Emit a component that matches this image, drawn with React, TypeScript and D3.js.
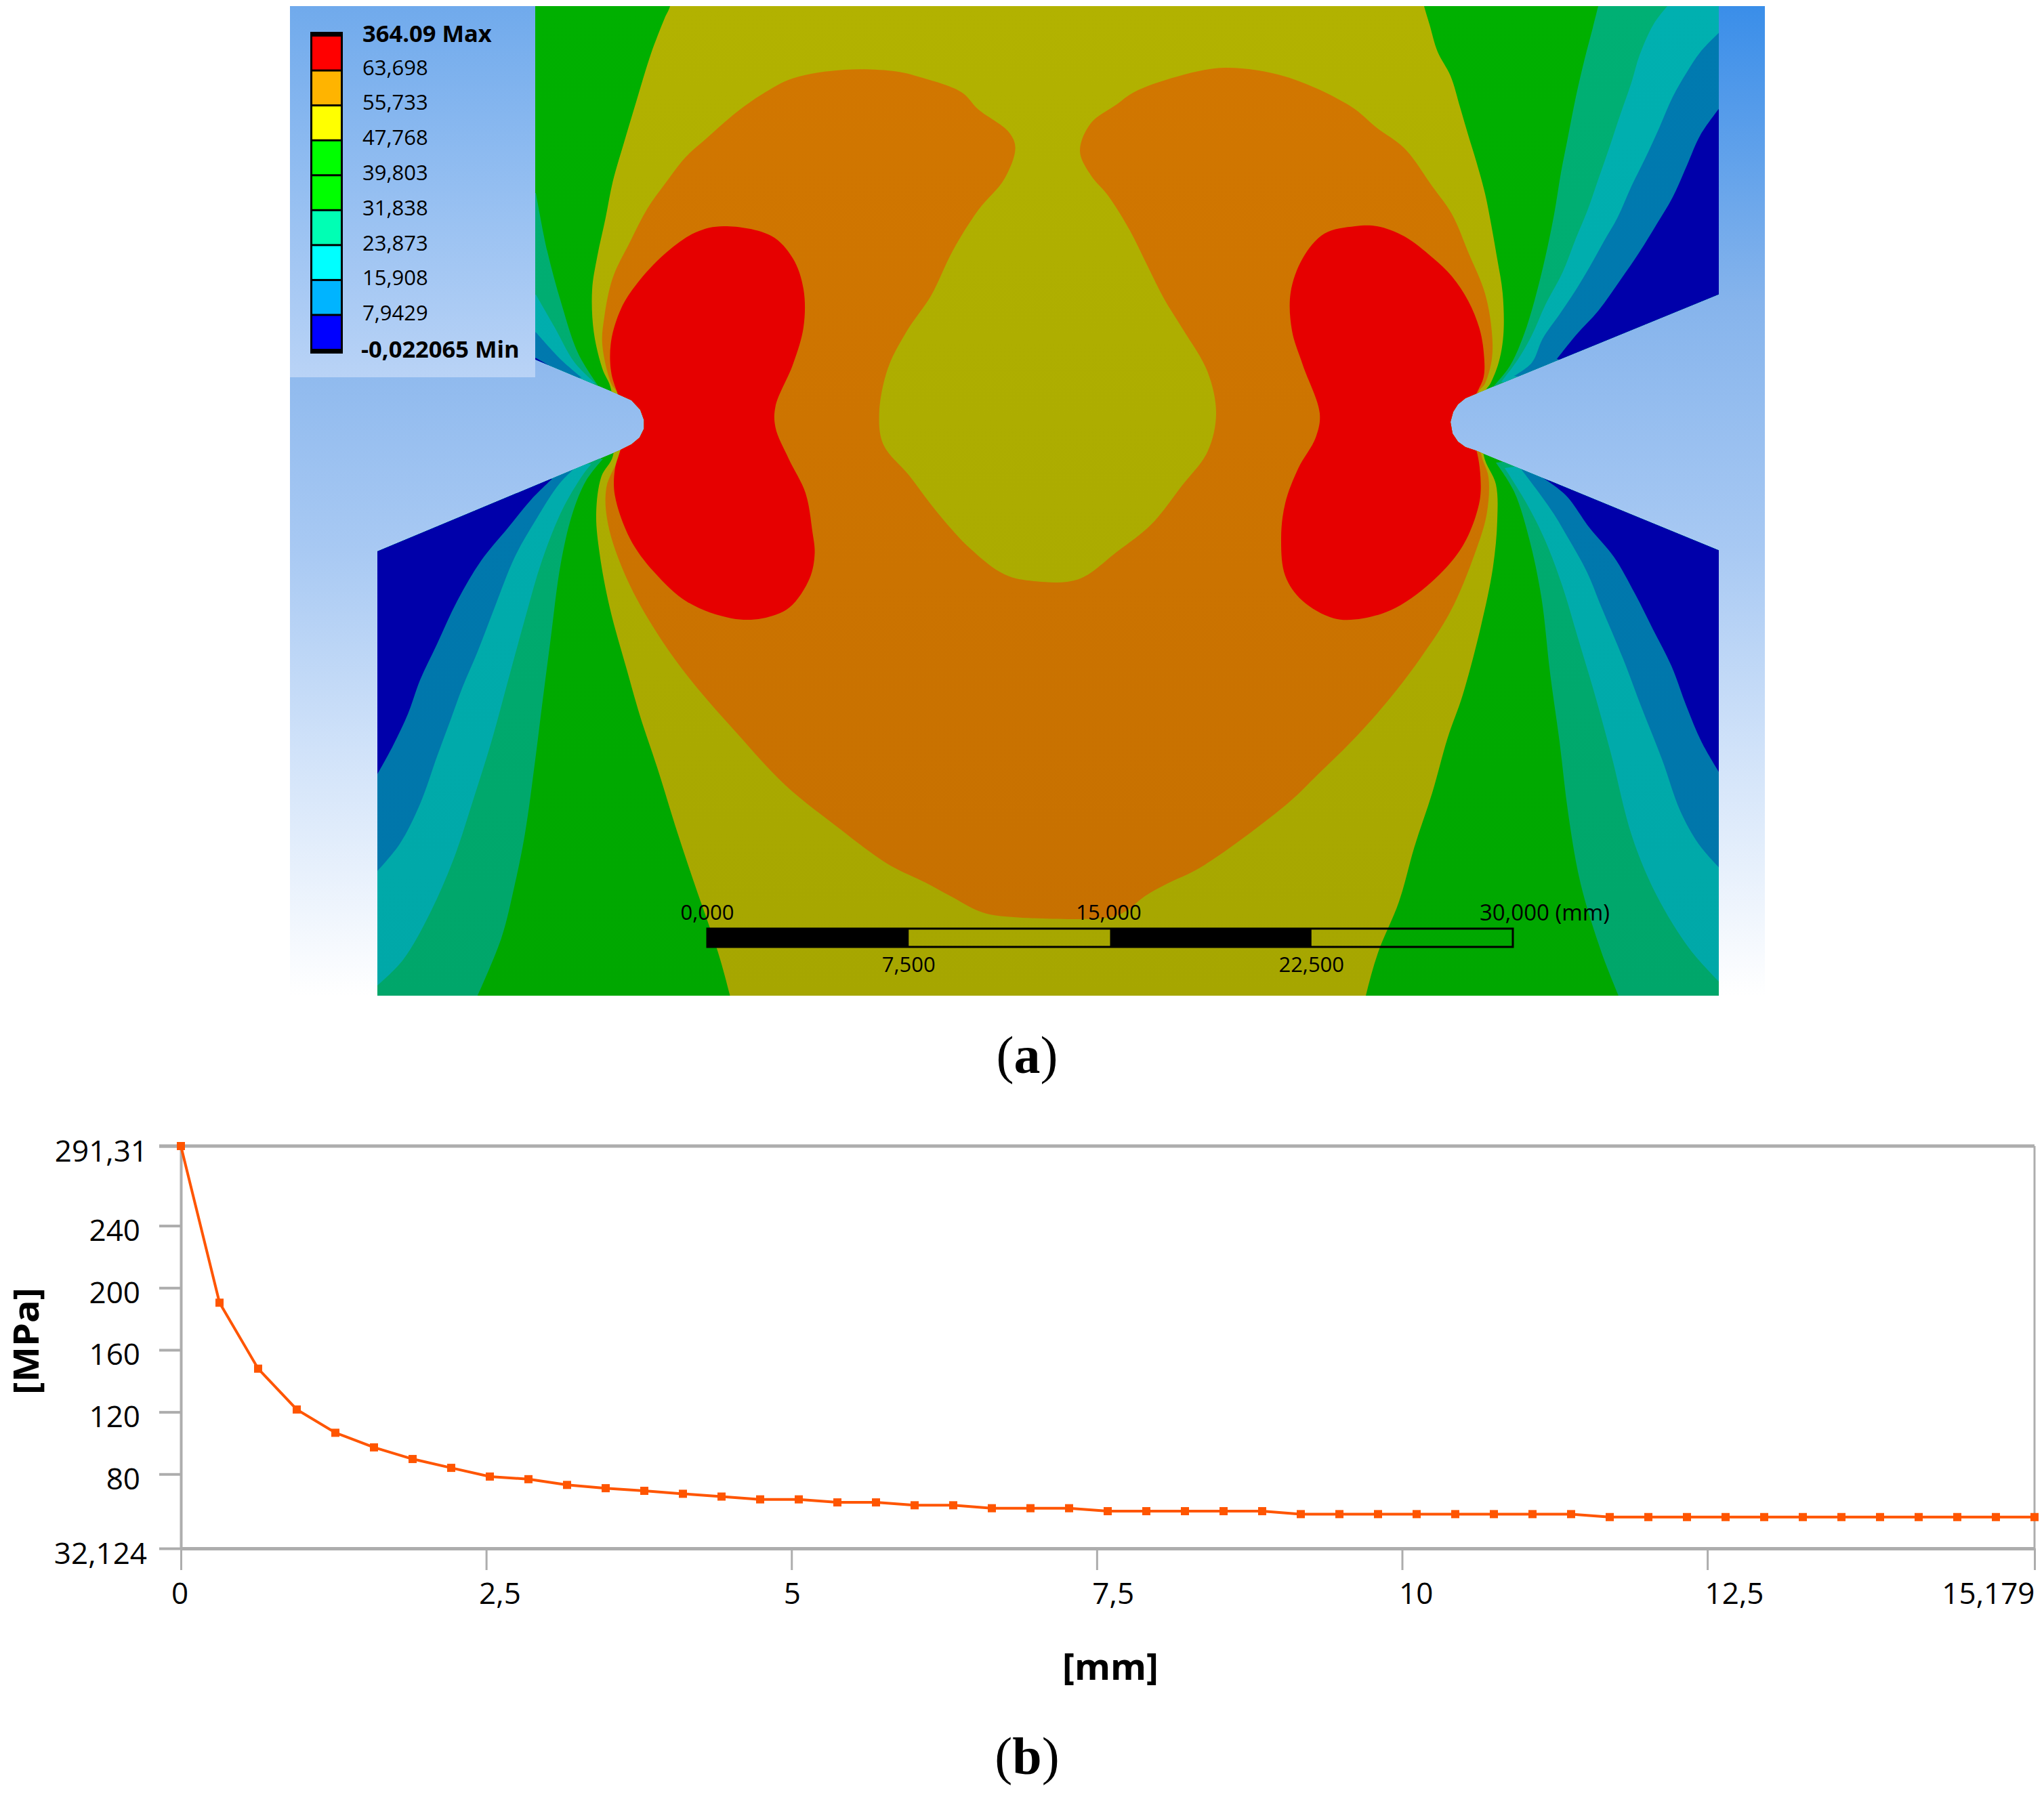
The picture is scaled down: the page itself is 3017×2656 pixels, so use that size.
import { useEffect, useRef } from "react";
import * as d3 from "d3";

type Pt = [number, number];

const WIDTH = 3017;
const HEIGHT = 2656;

// ---- panel (b) data
const stressValues = [
  291.31, 190.4, 147.9, 121.6, 106.6, 97.2, 89.7, 84, 78.4, 76.7, 73, 70.9, 69.2, 67.3, 65.5, 63.7, 63.7,
  61.75, 61.75, 59.9, 59.9, 58, 58, 58, 56.1, 56.1, 56.1, 56.1, 56.1, 54.2, 54.2, 54.2, 54.2, 54.2, 54.2,
  54.2, 54.2, 52.3, 52.3, 52.3, 52.3, 52.3, 52.3, 52.3, 52.3, 52.3, 52.3, 52.3, 52.3,
];
const distanceMax = 15.179;
const stressTicks = [291.31, 240, 200, 160, 120, 80, 32.124];
const stressLabels = ["291,31", "240", "200", "160", "120", "80", "32,124"];
const distanceTicks = [0, 2.5, 5, 7.5, 10, 12.5, 15.179];
const distanceLabels = ["0", "2,5", "5", "7,5", "10", "12,5", "15,179"];

// ---- panel (a) legend
const legendLabels = [
  "364.09 Max", "63,698", "55,733", "47,768", "39,803", "31,838", "23,873", "15,908", "7,9429", "-0,022065 Min",
];
const legendColors = [
  "#ff0000", "#ffb400", "#ffff00", "#00ff00", "#00ff00", "#00ffb4", "#00ffff", "#00b4ff", "#0000ff",
];
const scaleTicks = [0, 7.5, 15, 22.5, 30];
const scaleLabels = ["0,000", "7,500", "15,000", "22,500", "30,000 (mm)"];

// ---- panel (a) contour outlines in image pixels
const specimen: Pt[] = [
  [557, 9], [2537, 9], [2537, 434.5], [2179.5, 581], [2163, 588], [2152, 597], [2145, 608], [2141, 623], [2144, 640],
  [2152, 652], [2163, 660], [2179.5, 665.5], [2537, 812.6], [2537, 1470], [557, 1470], [557, 814], [915, 664.5],
  [932, 656], [944, 646], [950.4, 633], [950.4, 620], [945, 605], [932, 591], [912, 582], [557, 433],
];

const olive: Pt[] = [
  [996, -40], [2090, -40], [2102, 9], [2110, 36], [2122, 76.5], [2141, 112], [2155, 158], [2167, 199], [2179.5, 240],
  [2192, 286], [2200, 326], [2210, 382.5], [2218, 433.5], [2219, 495], [2212, 535.5], [2200, 566], [2192, 579],
  [2190, 672], [2208, 715], [2210, 768.6], [2203.6, 838], [2186, 924], [2159, 1026], [2136.6, 1090], [2114, 1170.6],
  [2087.5, 1251], [2065, 1331], [2034, 1406.5], [2016, 1470], [2006, 1520], [1090, 1520], [1077.5, 1470], [1060, 1406.5],
  [1025, 1304.6], [1000, 1229.6], [970, 1133], [945, 1058], [925, 988], [900, 897], [885, 817], [880, 758], [887.5, 704],
  [905, 672], [902, 575], [889, 544], [876.5, 490.6], [874, 428], [881.5, 379], [894, 321], [904.5, 268], [920, 214],
  [940, 147], [960.6, 80], [981, 27], [989, 9],
];

const orange: Pt[] = [
  [912, 582], [902, 566], [889, 508], [892, 468], [904.5, 410], [930, 357], [955.5, 308], [981, 272], [1012, 232],
  [1042, 205], [1088, 165], [1125.5, 138.7], [1170, 115.7], [1246.7, 103], [1323, 105.5], [1355, 113], [1419, 136],
  [1444, 161.6], [1489, 195], [1498.6, 217.8], [1482.7, 263.7], [1444.4, 309.6], [1406, 370.8], [1374, 437],
  [1339, 488], [1310.5, 544], [1297.7, 610.6], [1304, 656.5], [1342, 702], [1380.6, 753], [1431.7, 809.6],
  [1482.7, 848], [1527, 858], [1591, 855.5], [1648.5, 814.7], [1699.5, 774], [1744, 717.8], [1782.4, 666.7],
  [1795, 610.6], [1782.4, 549], [1744, 483], [1718.7, 442], [1693, 391], [1667.6, 340], [1635.7, 289], [1610, 258.6],
  [1594, 222.9], [1610, 182], [1648.5, 154], [1674, 136], [1737.8, 113], [1808, 100], [1897, 113], [1993, 156.5],
  [2032.6, 189], [2073, 219], [2114, 275], [2143, 316], [2167, 372], [2192, 433.5], [2202, 490], [2202, 530],
  [2192, 566], [2181.6, 581], [2186, 669.5], [2197, 704], [2194.6, 758], [2177, 817], [2141, 902.6], [2096.4, 972],
  [2047, 1036.6], [1994, 1095.6], [1944.6, 1144], [1900, 1186.7], [1773, 1280], [1722, 1305], [1690, 1323],
  [1662, 1345], [1640, 1354], [1496, 1354], [1450, 1347], [1403, 1323], [1366, 1303], [1318, 1280], [1290, 1262],
  [1240, 1224], [1160, 1160], [1085, 1079.5], [1020, 1004.5], [970, 935], [925, 854], [897.5, 774], [895, 720],
  [915, 667],
];

const redLeft: Pt[] = [
  [1068, 334], [1138, 348], [1170, 381], [1186, 427], [1186, 483], [1170, 539], [1144.6, 600], [1144.6, 631],
  [1164, 677], [1189, 728], [1199, 784], [1202.5, 817], [1195, 854], [1165, 897], [1125, 913], [1080, 913],
  [1015, 889], [965, 844], [930, 795.4], [907.5, 731], [907.5, 693.6], [915, 667], [930, 625], [912, 582],
  [902, 548.6], [902, 504], [917, 455], [940, 419], [981, 375], [1027, 343],
];

const redRight: Pt[] = [
  [2000, 334], [2032.6, 334], [2073, 349], [2114, 380], [2143, 408], [2167, 444], [2183.6, 484.5], [2190, 520],
  [2190, 556], [2179.5, 581], [2160, 625], [2179, 664], [2185.7, 720], [2181, 752.6], [2159, 806], [2118.7, 854],
  [2060.7, 897], [2011.6, 913], [1969, 913], [1922, 886.6], [1897, 850], [1891, 794], [1897, 743], [1916, 692],
  [1942, 646], [1948, 610.6], [1923, 539], [1907, 488], [1905, 432], [1923, 381], [1954.6, 345],
];

// upper right bands
const trGreenTeal: Pt[] = [
  [2359, 9], [2351, 41], [2339, 87], [2326, 143], [2314, 204], [2304, 255], [2294, 316], [2281.5, 377], [2265, 443.7],
  [2249, 495], [2228.5, 540.6], [2204, 571],
];
const trTeal: Pt[] = [
  [2461, 9], [2440.6, 36], [2420, 81.6], [2408, 122], [2392, 168], [2375, 219], [2359, 265], [2343, 311], [2326, 352],
  [2306, 403], [2281.5, 449], [2261, 495], [2241, 530], [2216, 563.5],
];
const trBlue: Pt[] = [
  [2537, 48.5], [2510, 76.5], [2489.6, 107], [2469, 143], [2449, 189], [2428, 234.6], [2408, 275], [2387.6, 321],
  [2367, 357], [2347, 393], [2326, 428], [2302, 464], [2277, 500], [2261, 535.5], [2235, 555],
];
const trNavy: Pt[] = [
  [2537, 160.7], [2510, 199], [2489.6, 245], [2469, 291], [2445, 331.5], [2420, 372], [2392, 413], [2359, 459],
  [2326, 495], [2298, 530],
];

// lower right bands
const brGreenTeal: Pt[] = [
  [2389, 1470], [2364, 1406.5], [2333, 1304.6], [2315, 1203], [2302, 1095.6], [2288, 994], [2275, 881], [2257, 795],
  [2235, 726], [2208, 683],
];
const brTeal: Pt[] = [
  [2537, 1449], [2494, 1401], [2444.6, 1320.7], [2409, 1235], [2377.6, 1111.7], [2351, 1015], [2328.5, 940], [2306, 865],
  [2279.4, 795], [2252.6, 742], [2221, 691],
];
const brBlue: Pt[] = [
  [2537, 1280.5], [2507, 1245.7], [2480, 1197], [2453.5, 1122], [2422, 1042], [2395.5, 972], [2364, 897], [2342, 843.7],
  [2315, 795], [2293, 758], [2266, 720], [2244, 691],
];
const brNavy: Pt[] = [
  [2537, 1139.6], [2511.6, 1095.6], [2489, 1042], [2467, 983], [2440, 929.4], [2413, 876], [2382, 822], [2346, 779],
  [2311, 731], [2275, 704],
];

// lower left bands
const blGreenTeal: Pt[] = [
  [705, 1470], [740, 1385], [760, 1305], [775, 1230], [790, 1122], [800, 1042], [812.5, 945.5], [827.5, 833], [845, 758],
  [865, 709.7], [890, 677.5],
];
const blTeal: Pt[] = [
  [557, 1455], [595, 1417], [635, 1347.5], [670, 1267], [700, 1176], [725, 1096], [750, 1004.5], [775, 913], [800, 827.6],
  [830, 752.6], [860, 701.6], [872.5, 685.6],
];
const blBlue: Pt[] = [
  [557, 1286], [590, 1246], [620, 1187], [645, 1117], [665, 1063], [682.5, 1015], [705, 962], [730, 897], [760, 822],
  [790, 769], [825, 715], [847.5, 692],
];
const blNavy: Pt[] = [
  [557, 1143], [580, 1101], [602.5, 1053], [620, 1004], [645, 951], [675, 887], [710, 828], [750, 779], [785, 736.5],
  [815, 707],
];

// upper left bands, mostly hidden by the legend box
const tlGreenTeal: Pt[] = [[791, 285], [807.6, 370], [828, 446], [853.5, 522], [884, 571]];
const tlTeal: Pt[] = [[791, 435], [818, 482], [848, 535], [879, 566]];
const tlBlue: Pt[] = [[791, 490.6], [828, 531], [858.6, 557.5]];
const tlNavy: Pt[] = [[791, 528.5], [820, 545]];

// corners that close the bands of each part of the specimen
const cornersTR: Pt[] = [[2600, 620], [2600, -20], [2359, -20]];
const cornersTRBlue: Pt[] = [[2600, 620], [2600, 48.5]];
const cornersBR: Pt[] = [[2600, 640], [2600, 1500], [2389, 1500]];
const cornersBRInner: Pt[] = [[2600, 640], [2600, 1449]];
const cornersBL: Pt[] = [[500, 640], [500, 1500], [705, 1500]];
const cornersBLInner: Pt[] = [[500, 640], [500, 1455]];
const cornersTL: Pt[] = [[500, 600], [500, 285]];

const GREEN = "url(#cGreen)";
const TEAL_GREEN = "url(#cTealGreen)";
const TEAL = "url(#cTeal)";
const BLUE = "url(#cBlue)";
const NAVY = "#0000aa";
const OLIVE = "url(#cOlive)";
const ORANGE = "url(#cOrange)";
const RED = "#e60000";

const bandLayers: [Pt[], Pt[], string][] = [
  [trGreenTeal, cornersTR, TEAL_GREEN],
  [trTeal, [[2600, 620], [2600, -20], [2461, -20]], TEAL],
  [trBlue, cornersTRBlue, BLUE],
  [trNavy, [[2600, 620], [2600, 160.7]], NAVY],
  [brGreenTeal, cornersBR, TEAL_GREEN],
  [brTeal, cornersBRInner, TEAL],
  [brBlue, [[2600, 640], [2600, 1280.5]], BLUE],
  [brNavy, [[2600, 640], [2600, 1139.6]], NAVY],
  [blGreenTeal, cornersBL, TEAL_GREEN],
  [blTeal, cornersBLInner, TEAL],
  [blBlue, [[500, 640], [500, 1286]], BLUE],
  [blNavy, [[500, 640], [500, 1143]], NAVY],
  [tlGreenTeal, cornersTL, TEAL_GREEN],
  [tlTeal, [[500, 600], [500, 435]], TEAL],
  [tlBlue, [[500, 600], [500, 490]], BLUE],
  [tlNavy, [[500, 600], [500, 528]], NAVY],
];
const blobLayers: [Pt[], string][] = [
  [olive, OLIVE],
  [orange, ORANGE],
  [redLeft, RED],
  [redRight, RED],
];

const SANS = "'Open Sans', 'Noto Sans', sans-serif";
const GREY = "#adadad";

export default function App() {
  const svgRef = useRef<SVGSVGElement>(null);

  useEffect(() => {
    const svg = d3.select(svgRef.current);
    svg.selectAll("*").remove();

    const defs = svg.append("defs");
    const addGradient = (id: string, stops: [number, string][], userSpace = false) => {
      const g = defs.append("linearGradient").attr("id", id);
      if (userSpace) {
        g.attr("gradientUnits", "userSpaceOnUse").attr("x1", 0).attr("x2", 0).attr("y1", 9).attr("y2", 1470);
      } else {
        g.attr("x1", 0).attr("x2", 0).attr("y1", 0).attr("y2", 1);
      }
      stops.forEach(([o, c]) => g.append("stop").attr("offset", o).attr("stop-color", c));
    };
    addGradient("bg", [[0, "#3a8ee9"], [0.3, "#86b4ec"], [0.55, "#a8c9f3"], [0.75, "#d0e2f9"], [1, "#ffffff"]]);
    addGradient("legendBg", [[0, "#70aaec"], [1, "#b9d3f6"]]);
    addGradient("cGreen", [[0, "#00b000"], [1, "#00a700"]], true);
    addGradient("cTealGreen", [[0, "#00b074"], [1, "#00a66a"]], true);
    addGradient("cTeal", [[0, "#00b0b0"], [1, "#00a8a8"]], true);
    addGradient("cBlue", [[0, "#007ab0"], [1, "#0076aa"]], true);
    addGradient("cOlive", [[0, "#b2b200"], [1, "#a6a600"]], true);
    addGradient("cOrange", [[0, "#d27700"], [1, "#c67000"]], true);

    const straight = d3.line<Pt>().curve(d3.curveLinearClosed);
    const blob = d3.line<Pt>().curve(d3.curveCatmullRomClosed.alpha(0.5));
    const edge = d3.line<Pt>().curve(d3.curveCatmullRom.alpha(0.5));
    defs.append("clipPath").attr("id", "specimenClip").append("path").attr("d", straight(specimen));

    // ---- panel (a)
    const a = svg.append("g");
    a.append("rect").attr("x", 428).attr("y", 9).attr("width", 2177).attr("height", 1461).attr("fill", "url(#bg)");
    const contours = a.append("g").attr("clip-path", "url(#specimenClip)");
    contours.append("path").attr("d", straight(specimen)).attr("fill", GREEN);
    contours
      .selectAll(".band")
      .data(bandLayers)
      .join("path")
      .attr("d", (d) => `${edge(d[0])}${d[1].map((p) => `L${p[0]},${p[1]}`).join("")}Z`)
      .attr("fill", (d) => d[2]);
    contours
      .selectAll(".blob")
      .data(blobLayers)
      .join("path")
      .attr("d", (d) => blob(d[0]))
      .attr("fill", (d) => d[1]);

    // legend
    a.append("rect").attr("x", 428).attr("y", 9).attr("width", 362).attr("height", 548).attr("fill", "url(#legendBg)");
    const swatch = d3
      .scaleBand<number>()
      .domain(d3.range(legendColors.length))
      .range([53, 517]);
    a.append("rect").attr("x", 458).attr("y", 47).attr("width", 48).attr("height", 475).attr("fill", "#000");
    a.selectAll(".swatch")
      .data(legendColors)
      .join("rect")
      .attr("x", 461)
      .attr("width", 42)
      .attr("y", (_, i) => swatch(i)! + 1)
      .attr("height", swatch.bandwidth() - 3)
      .attr("fill", (d) => d);
    const legendY = d3.scalePoint<number>().domain(d3.range(legendLabels.length)).range([50, 516]);
    const isBold = (i: number) => i === 0 || i === legendLabels.length - 1;
    a.selectAll(".legendLabel")
      .data(legendLabels)
      .join("text")
      .attr("x", (_, i) => (i === legendLabels.length - 1 ? 533 : 535))
      .attr("y", (_, i) => legendY(i)! - (isBold(i) ? 0 : 2))
      .attr("dy", "0.35em")
      .attr("font-family", SANS)
      .attr("font-size", (_, i) => (isBold(i) ? 34.5 : 31))
      .attr("font-weight", (_, i) => (isBold(i) ? 700 : 400))
      .text((d) => d);

    // scale bar
    const bar = d3.scaleLinear().domain([0, 30]).range([1044, 2233]);
    a.append("rect")
      .attr("x", bar(0)).attr("y", 1371).attr("width", bar(30) - bar(0)).attr("height", 27)
      .attr("fill", "none").attr("stroke", "#000").attr("stroke-width", 3);
    [[0, 7.5], [15, 22.5]].forEach(([s, e]) => {
      a.append("rect")
        .attr("x", bar(s)).attr("y", 1370).attr("width", bar(e) - bar(s)).attr("height", 29)
        .attr("fill", "#000");
    });
    a.selectAll(".barLabel")
      .data(scaleTicks)
      .join("text")
      .attr("x", (d, i) => (i === 4 ? 2184 : bar(d) - (i === 2 ? 2 : 0)))
      .attr("y", (_, i) => (i % 2 === 0 ? 1347 : 1424))
      .attr("dy", "0.35em")
      .attr("text-anchor", (_, i) => (i === 4 ? "start" : "middle"))
      .attr("font-family", SANS)
      .attr("font-size", (_, i) => (i === 4 ? 33 : 31))
      .text((_, i) => scaleLabels[i]);

    // ---- panel (b)
    const x = d3.scaleLinear().domain([0, distanceMax]).range([267, 3003]);
    const y = d3.scaleLinear().domain([32.124, 291.31]).range([2286, 1692]);
    const b = svg.append("g");

    const yAxis = d3
      .axisLeft(y)
      .tickValues(stressTicks)
      .tickSize(32)
      .tickSizeOuter(0)
      .tickFormat((_, i) => stressLabels[i]);
    const yG = b.append("g").attr("transform", `translate(${x(0)},0)`).call(yAxis);
    yG.select(".domain").attr("stroke", GREY).attr("stroke-width", 4);
    yG.selectAll(".tick line").attr("stroke", GREY).attr("stroke-width", 4);
    yG.selectAll(".tick text")
      .attr("x", (_, i) => (i === 0 ? -49 : i === 6 ? -50 : -60))
      .attr("dy", "0.5em")
      .attr("fill", "#000")
      .attr("font-family", SANS)
      .attr("font-size", 44);

    const xAxis = d3
      .axisBottom(x)
      .tickValues(distanceTicks)
      .tickSize(32)
      .tickSizeOuter(0)
      .tickFormat((_, i) => distanceLabels[i]);
    const xG = b.append("g").attr("transform", `translate(0,${y(32.124)})`).call(xAxis);
    xG.select(".domain").attr("stroke", GREY).attr("stroke-width", 5);
    xG.selectAll(".tick line").attr("stroke", GREY).attr("stroke-width", 3);
    const xLabelShift = [-2, -11, -12, -7, -5, -4, 0];
    xG.selectAll(".tick text")
      .attr("y", 70)
      .attr("dy", "0")
      .attr("text-anchor", (_, i) => (i === 0 ? "middle" : i === 6 ? "end" : "start"))
      .attr("x", (_, i) => xLabelShift[i])
      .attr("dominant-baseline", "middle")
      .attr("fill", "#000")
      .attr("font-family", SANS)
      .attr("font-size", 44);

    // top and right of the frame
    b.append("line")
      .attr("x1", x(0) - 32).attr("x2", x(distanceMax)).attr("y1", y(291.31)).attr("y2", y(291.31))
      .attr("stroke", GREY).attr("stroke-width", 5);
    b.append("line")
      .attr("x1", x(distanceMax)).attr("x2", x(distanceMax)).attr("y1", y(291.31)).attr("y2", y(32.124))
      .attr("stroke", GREY).attr("stroke-width", 3);

    const step = distanceMax / (stressValues.length - 1);
    const curve = d3
      .line<number>()
      .x((_, i) => x(i * step))
      .y((d) => y(d));
    b.append("path").attr("d", curve(stressValues)).attr("fill", "none").attr("stroke", "#ff5500").attr("stroke-width", 4);
    b.selectAll(".mark")
      .data(stressValues)
      .join("rect")
      .attr("x", (_, i) => x(i * step) - 6)
      .attr("y", (d) => y(d) - 6)
      .attr("width", 12)
      .attr("height", 12)
      .attr("fill", "#ff5500");

    b.append("text")
      .attr("transform", "translate(39,1980) rotate(-90)")
      .attr("text-anchor", "middle")
      .attr("dy", "0.35em")
      .attr("font-family", SANS)
      .attr("font-size", 52)
      .attr("font-weight", 700)
      .attr("textLength", 158)
      .attr("lengthAdjust", "spacingAndGlyphs")
      .text("[MPa]");
    b.append("text")
      .attr("x", 1639)
      .attr("y", 2461)
      .attr("text-anchor", "middle")
      .attr("dy", "0.35em")
      .attr("font-family", SANS)
      .attr("font-size", 54)
      .attr("font-weight", 700)
      .text("[mm]");

    // captions
    [["a", 1559], ["b", 2594]].forEach(([letter, cy]) => {
      const t = svg.append("text")
        .attr("x", 1516)
        .attr("y", cy as number)
        .attr("text-anchor", "middle")
        .attr("dy", "0.32em")
        .attr("font-family", "'Liberation Serif', serif")
        .attr("font-size", 78);
      t.append("tspan").text("(");
      t.append("tspan").attr("font-weight", 700).text(letter as string);
      t.append("tspan").text(")");
    });
  }, []);

  return (
    <svg
      ref={svgRef}
      width={WIDTH}
      height={HEIGHT}
      style={{ position: "absolute", left: 0, top: 0, background: "#fff" }}
    />
  );
}
